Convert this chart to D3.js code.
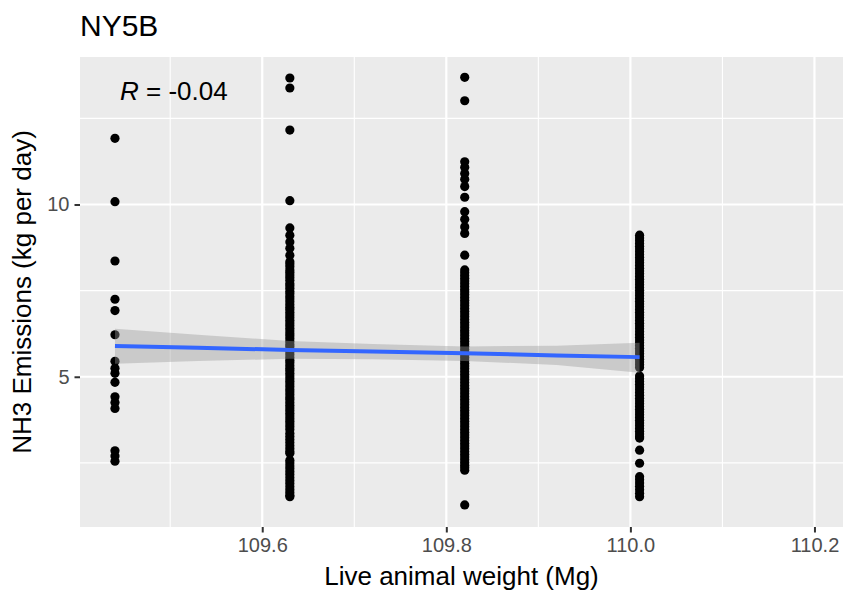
<!DOCTYPE html>
<html>
<head>
<meta charset="utf-8">
<script src="https://cdn.jsdelivr.net/npm/d3@7"></script>
<style>
  html, body { margin: 0; padding: 0; background: #ffffff; }
  svg { display: block; font-family: "Liberation Sans", Arial, sans-serif; }
</style>
</head>
<body>
<svg id="chart" width="845" height="594"></svg>
<script>
// ---- Data ----
const chartTitle = "NY5B";
const xLabel = "Live animal weight (Mg)";
const yLabel = "NH3 Emissions (kg per day)";
const corrLabel = "-0.04";

const weights = [109.44, 109.63, 109.82, 110.01];

const emis109_44 = [11.92, 10.08, 8.36, 7.25, 6.92, 6.22, 5.45, 5.25, 5.1, 4.84, 4.42, 4.25, 4.08, 2.85, 2.7, 2.55];

const emis109_63 = [13.67, 13.38, 12.16, 10.11, 9.32, 9.11, 8.91, 8.73, 8.53,
  8.34, 8.27, 8.19, 8.1, 8.03, 7.95, 7.88, 7.8, 7.71, 7.64, 7.57, 7.48, 7.41, 7.33, 7.26, 7.18,
  7.1, 7.02, 6.95, 6.87, 6.79, 6.72, 6.64, 6.56, 6.49, 6.41, 6.33, 6.25, 6.18, 6.1, 6.02, 5.94,
  5.87, 5.79, 5.72, 5.64, 5.56, 5.48, 5.41, 5.33, 5.25, 5.18, 5.1, 5.02, 4.94, 4.87, 4.79, 4.71,
  4.63, 4.56, 4.48, 4.4, 4.33, 4.25, 4.17, 4.09, 4.02, 3.94, 3.86, 3.78, 3.71, 3.63, 3.55, 3.47,
  3.36, 3.27, 3.18, 3.09, 3.0, 2.91, 2.83, 2.78,
  2.58, 2.5, 2.41, 2.33, 2.24, 2.16, 2.07, 1.98, 1.9, 1.81, 1.72, 1.64, 1.56, 1.52];

const emis109_82 = [13.69, 13.01, 11.24, 11.08, 10.9, 10.73, 10.52, 10.21, 9.79, 9.57, 9.35, 9.16, 8.53,
  8.1, 8.02, 7.94, 7.86, 7.78, 7.7, 7.62, 7.53, 7.46, 7.38, 7.3, 7.22, 7.14, 7.06, 6.98, 6.9,
  6.82, 6.74, 6.66, 6.58, 6.5, 6.42, 6.34, 6.27, 6.19, 6.11, 6.03, 5.95, 5.87, 5.79, 5.71, 5.63,
  5.55, 5.47, 5.39, 5.31, 5.23, 5.15, 5.07, 4.99, 4.91, 4.83, 4.75, 4.67, 4.59, 4.51, 4.43, 4.35,
  4.27, 4.19, 4.11, 4.03, 3.95, 3.87, 3.79, 3.71, 3.63, 3.55, 3.47, 3.39, 3.31, 3.23, 3.15, 3.07,
  2.99, 2.91, 2.83, 2.75, 2.67, 2.59, 2.51, 2.43, 2.36, 2.29, 1.28];

const emis110_01 = [9.11, 9.03, 8.95, 8.87, 8.79, 8.71, 8.63, 8.55, 8.47, 8.39, 8.31, 8.23, 8.15,
  8.07, 7.99, 7.91, 7.83, 7.75, 7.67, 7.59, 7.51, 7.43, 7.35, 7.27, 7.19, 7.11, 7.03, 6.95, 6.87,
  6.79, 6.71, 6.63, 6.55, 6.47, 6.39, 6.31, 6.23, 6.15, 6.07, 5.99, 5.91, 5.83, 5.75, 5.67, 5.59,
  5.51, 5.43, 5.35, 5.27, 5.02, 4.94, 4.86, 4.78, 4.7, 4.62, 4.54, 4.46, 4.38, 4.3, 4.22, 4.14,
  4.06, 3.98, 3.9, 3.82, 3.74, 3.66, 3.58, 3.5, 3.42, 3.34, 3.26, 3.22,
  2.87, 2.49, 2.1, 2.01, 1.92, 1.82, 1.72, 1.62, 1.52];

const emissionsByWeight = [emis109_44, emis109_63, emis109_82, emis110_01];

// fitted line and confidence band
const fitX  = [109.44, 109.53, 109.63, 109.72, 109.82, 109.92, 110.01];
const fitY  = [5.89, 5.84, 5.78, 5.73, 5.68, 5.62, 5.57];
const fitLo = [5.38, 5.46, 5.52, 5.51, 5.46, 5.34, 5.12];
const fitHi = [6.39, 6.22, 6.04, 5.95, 5.88, 5.90, 5.99];

const xTicks = [109.6, 109.8, 110.0, 110.2];
const xMinor = [109.5, 109.7, 109.9, 110.1];
const yTicks = [5, 10];
const yMinor = [2.5, 7.5, 12.5];
const xDomain = [109.402, 110.231];
const yDomain = [0.64, 14.28];

// ---- Layout ----
const panel = { left: 80, right: 843, top: 57, bottom: 527 };
const svg = d3.select("#chart");

const x = d3.scaleLinear().domain(xDomain).range([panel.left, panel.right]);
const y = d3.scaleLinear().domain(yDomain).range([panel.bottom, panel.top]);

svg.append("rect")
  .attr("x", panel.left).attr("y", panel.top)
  .attr("width", panel.right - panel.left).attr("height", panel.bottom - panel.top)
  .attr("fill", "#EBEBEB");

const grid = svg.append("g");
grid.selectAll(".xminor").data(xMinor).join("line")
  .attr("x1", d => x(d)).attr("x2", d => x(d))
  .attr("y1", panel.top).attr("y2", panel.bottom)
  .attr("stroke", "#fff").attr("stroke-width", 1.1);
grid.selectAll(".yminor").data(yMinor).join("line")
  .attr("y1", d => y(d)).attr("y2", d => y(d))
  .attr("x1", panel.left).attr("x2", panel.right)
  .attr("stroke", "#fff").attr("stroke-width", 1.1);
grid.selectAll(".xmajor").data(xTicks).join("line")
  .attr("x1", d => x(d)).attr("x2", d => x(d))
  .attr("y1", panel.top).attr("y2", panel.bottom)
  .attr("stroke", "#fff").attr("stroke-width", 2.2);
grid.selectAll(".ymajor").data(yTicks).join("line")
  .attr("y1", d => y(d)).attr("y2", d => y(d))
  .attr("x1", panel.left).attr("x2", panel.right)
  .attr("stroke", "#fff").attr("stroke-width", 2.2);

// points
const pts = [];
weights.forEach((w, i) => emissionsByWeight[i].forEach(v => pts.push({ w, v })));
svg.append("g").selectAll("circle").data(pts).join("circle")
  .attr("cx", d => x(d.w)).attr("cy", d => y(d.v))
  .attr("r", 4.6).attr("fill", "#000");

// smooth ribbon + line
const band = fitX.map((xv, i) => ({ x: xv, y: fitY[i], lo: fitLo[i], hi: fitHi[i] }));
svg.append("path").datum(band)
  .attr("d", d3.area().x(d => x(d.x)).y0(d => y(d.lo)).y1(d => y(d.hi)))
  .attr("fill", "#999999").attr("fill-opacity", 0.4);
svg.append("path").datum(band)
  .attr("d", d3.line().x(d => x(d.x)).y(d => y(d.y)))
  .attr("fill", "none").attr("stroke", "#3366FF").attr("stroke-width", 4);

// axes
const xAxis = svg.append("g")
  .attr("transform", `translate(0,${panel.bottom})`)
  .call(d3.axisBottom(x).tickValues(xTicks).tickFormat(d3.format(".1f")).tickSize(5.5).tickPadding(5));
xAxis.select(".domain").remove();
xAxis.selectAll("line").attr("stroke", "#333333").attr("stroke-width", 2);
xAxis.selectAll("text").attr("fill", "#4D4D4D").attr("font-size", 20)
  .attr("font-family", "Liberation Sans, Arial, sans-serif");

const yAxis = svg.append("g")
  .attr("transform", `translate(${panel.left},0)`)
  .call(d3.axisLeft(y).tickValues(yTicks).tickSize(5.5).tickPadding(5));
yAxis.select(".domain").remove();
yAxis.selectAll("line").attr("stroke", "#333333").attr("stroke-width", 2);
yAxis.selectAll("text").attr("fill", "#4D4D4D").attr("font-size", 20)
  .attr("font-family", "Liberation Sans, Arial, sans-serif");

// titles
svg.append("text")
  .attr("x", panel.left).attr("y", 36)
  .attr("font-size", 30).attr("fill", "#000")
  .text(chartTitle);

svg.append("text")
  .attr("x", (panel.left + panel.right) / 2).attr("y", 585)
  .attr("text-anchor", "middle").attr("font-size", 26).attr("fill", "#000")
  .text(xLabel);

svg.append("text")
  .attr("transform", `translate(31,${(panel.top + panel.bottom) / 2}) rotate(-90)`)
  .attr("text-anchor", "middle").attr("font-size", 26).attr("fill", "#000")
  .text(yLabel);

// correlation label
const rl = svg.append("text")
  .attr("x", 120).attr("y", 100)
  .attr("font-size", 26).attr("fill", "#000");
rl.append("tspan").attr("font-style", "italic").text("R");
rl.append("tspan").text(" = " + corrLabel);
</script>
</body>
</html>
